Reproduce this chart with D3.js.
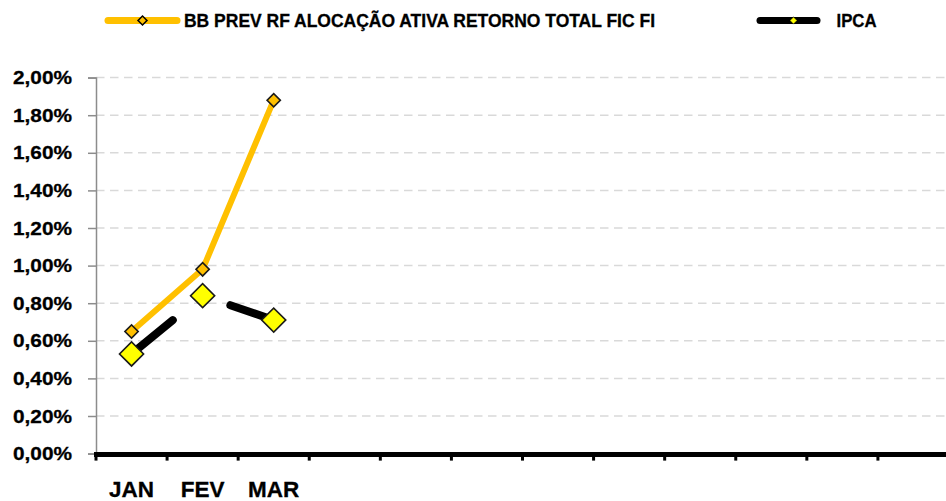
<!DOCTYPE html>
<html>
<head>
<meta charset="utf-8">
<script src="https://cdn.jsdelivr.net/npm/d3@7"></script>
<style>
  html, body { margin: 0; padding: 0; background: #fff; overflow: hidden; }
  svg { display: block; font-family: "Liberation Sans", Arial, sans-serif; font-weight: bold; }
</style>
</head>
<body>
<svg id="chart" width="946" height="501"></svg>
<script>
// ---- data ----
const categories = ["JAN","FEV","MAR","","","","","","","","",""];
const seriesNames = ["BB PREV RF ALOCAÇÃO ATIVA RETORNO TOTAL FIC FI", "IPCA"];
const fundValues = [0.0065, 0.0098, 0.0188];
const ipcaValues = [0.0053, 0.0084, 0.0071];
const yTicks = [0, 0.002, 0.004, 0.006, 0.008, 0.010, 0.012, 0.014, 0.016, 0.018, 0.020];

// ---- layout ----
const svg = d3.select("#chart");
const plotLeft = 96, plotRight = 949, plotTop = 77.6, plotBottom = 453.6;
const gold = "#FFC000";

const x = d3.scaleBand().domain(d3.range(categories.length)).range([plotLeft, plotRight]);
const y = d3.scaleLinear().domain([0, 0.02]).range([plotBottom, plotTop]);
const cx = i => x(i) + x.bandwidth() / 2;
const fmt = v => (v * 100).toFixed(2).replace(".", ",") + "%";

// gridlines
svg.append("g").selectAll("line")
  .data(yTicks.filter(t => t > 0))
  .join("line")
  .attr("x1", plotLeft).attr("x2", 946)
  .attr("y1", d => y(d)).attr("y2", d => y(d))
  .attr("stroke", "#D9D9D9").attr("stroke-width", 1.5)
  .attr("stroke-dasharray", "8.5,5.5");

// y axis
const yAxis = svg.append("g")
  .attr("transform", `translate(${plotLeft},0)`)
  .call(d3.axisLeft(y).tickValues(yTicks).tickFormat(fmt).tickSize(8).tickPadding(16));
yAxis.select(".domain").attr("stroke", "#8C8C8C").attr("stroke-width", 1.5);
yAxis.selectAll(".tick line").attr("stroke", "#8C8C8C").attr("stroke-width", 1.5);
yAxis.selectAll(".tick text")
  .attr("font-size", 19).attr("font-weight", "bold").attr("fill", "#000")
  .attr("font-family", "Liberation Sans, Arial, sans-serif")
  .attr("stroke", "#000").attr("stroke-width", 0.3)
  .attr("textLength", 59).attr("lengthAdjust", "spacingAndGlyphs");

// x axis
const xAxisG = svg.append("g").attr("transform", `translate(0,${plotBottom})`);
xAxisG.append("line")
  .attr("x1", plotLeft - 2).attr("x2", 946)
  .attr("y1", 0.8).attr("y2", 0.8)
  .attr("stroke", "#000").attr("stroke-width", 5);
const boundaries = d3.range(categories.length + 1).map(i => plotLeft + i * x.step());
xAxisG.selectAll(".xtick")
  .data(boundaries)
  .join("line")
  .attr("class", "xtick")
  .attr("x1", d => d).attr("x2", d => d)
  .attr("y1", 0).attr("y2", 7)
  .attr("stroke", "#000").attr("stroke-width", 3);
xAxisG.selectAll(".xlabel")
  .data(categories)
  .join("text")
  .attr("class", "xlabel")
  .attr("x", (d, i) => cx(i))
  .attr("y", 43)
  .attr("text-anchor", "middle")
  .attr("font-size", 22.5)
  .attr("stroke", "#000").attr("stroke-width", 0.3)
  .attr("fill", "#000")
  .text(d => d);

// IPCA line: drawn as separate segments, broken around the second point as in the reference
const pts = ipcaValues.map((v, i) => [cx(i), y(v)]);
const segs = [
  [pts[0], d3.interpolate(pts[0], pts[1])(0.58)],
  [d3.interpolate(pts[1], pts[2])(0.39), pts[2]]
];
svg.append("g").selectAll("line")
  .data(segs)
  .join("line")
  .attr("x1", d => d[0][0]).attr("y1", d => d[0][1])
  .attr("x2", d => d[1][0]).attr("y2", d => d[1][1])
  .attr("stroke", "#000")
  .attr("stroke-width", 8)
  .attr("stroke-linecap", "round");

const line = d3.line().x((d, i) => cx(i)).y(d => y(d));

// fund line
svg.append("path")
  .datum(fundValues)
  .attr("d", line)
  .attr("fill", "none")
  .attr("stroke", gold)
  .attr("stroke-width", 6)
  .attr("stroke-linecap", "round")
  .attr("stroke-linejoin", "round");

const diamond = size => d3.symbol(d3.symbolSquare, size)();

// fund markers
svg.append("g").selectAll("path")
  .data(fundValues)
  .join("path")
  .attr("d", diamond(88))
  .attr("transform", (d, i) => `translate(${cx(i)},${y(d)}) rotate(45)`)
  .attr("fill", gold).attr("stroke", "#1a1a1a").attr("stroke-width", 1.6);

// IPCA markers
svg.append("g").selectAll("path")
  .data(ipcaValues)
  .join("path")
  .attr("d", diamond(290))
  .attr("transform", (d, i) => `translate(${cx(i)},${y(d)}) rotate(45)`)
  .attr("fill", "#FFFF00").attr("stroke", "#1a1a1a").attr("stroke-width", 1.6);

// legend
const legend = svg.append("g");
const ly = 20.5;
legend.append("line").attr("x1", 108).attr("x2", 177).attr("y1", ly).attr("y2", ly)
  .attr("stroke", gold).attr("stroke-width", 7).attr("stroke-linecap", "round");
legend.append("path").attr("d", diamond(40))
  .attr("transform", `translate(142.5,${ly}) rotate(45)`)
  .attr("fill", gold).attr("stroke", "#000").attr("stroke-width", 1.5);
legend.append("text").attr("x", 184).attr("y", ly + 6.5)
  .attr("font-size", 17.5).attr("fill", "#000")
  .attr("stroke", "#000").attr("stroke-width", 0.3)
  .attr("textLength", 471).attr("lengthAdjust", "spacingAndGlyphs")
  .text(seriesNames[0]);

legend.append("line").attr("x1", 760).attr("x2", 817).attr("y1", ly).attr("y2", ly)
  .attr("stroke", "#000").attr("stroke-width", 7).attr("stroke-linecap", "round");
legend.append("path").attr("d", diamond(26))
  .attr("transform", `translate(793.5,${ly}) rotate(45)`)
  .attr("fill", "#FFFF00").attr("stroke", "#000").attr("stroke-width", 0.6);
legend.append("text").attr("x", 836.5).attr("y", ly + 6.5)
  .attr("font-size", 17.5).attr("fill", "#000")
  .attr("stroke", "#000").attr("stroke-width", 0.3)
  .attr("textLength", 40).attr("lengthAdjust", "spacingAndGlyphs")
  .text(seriesNames[1]);
</script>
</body>
</html>
